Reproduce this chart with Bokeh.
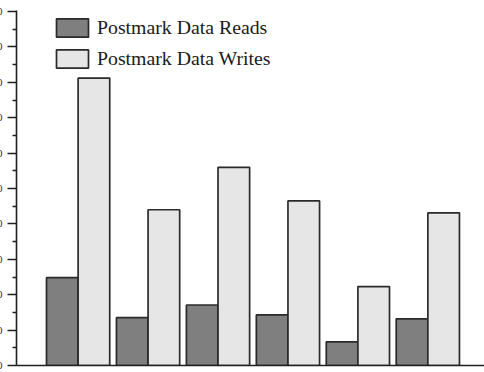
from bokeh.plotting import figure
from bokeh.models import ColumnDataSource, FixedTicker, Legend, LegendItem, Range1d
from bokeh.embed import file_html
from bokeh.resources import INLINE

# data
groups = [1, 2, 3, 4, 5, 6]
reads = [24.8, 13.5, 17.1, 14.3, 6.7, 13.2]
writes = [81.2, 44.0, 56.0, 46.5, 22.3, 43.1]
y_ticks = [0, 10, 20, 30, 40, 50, 60, 70, 80, 90, 100]
series_names = ["Postmark Data Reads", "Postmark Data Writes"]

SHIFT = 18  # px pushed off the left edge (labels are cut in the reference)

src_r = ColumnDataSource(dict(x=[g - 0.226 for g in groups], top=reads))
src_w = ColumnDataSource(dict(x=[g + 0.226 for g in groups], top=writes))

p = figure(width=484 + SHIFT, height=372, output_backend="svg", toolbar_location=None,
           x_range=Range1d(0.119, 6.81), y_range=Range1d(0, 100.3))
p.styles = {"margin-left": f"-{SHIFT}px"}
p.min_border_left = 0
p.min_border_right = 0
p.min_border_top = 10
p.min_border_bottom = 7
p.outline_line_color = None
p.grid.visible = False
p.background_fill_color = "white"
p.border_fill_color = "white"

r1 = p.vbar(x="x", top="top", width=0.452, source=src_r, fill_color="#7f7f7f",
            line_color="#2a2a2a", line_width=1.7)
r2 = p.vbar(x="x", top="top", width=0.452, source=src_w, fill_color="#e6e6e6",
            line_color="#2a2a2a", line_width=1.7)

yax = p.yaxis[0]
yax.ticker = FixedTicker(ticks=y_ticks, minor_ticks=[v + 5 for v in y_ticks[:-1]])
yax.axis_line_width = 1.6
yax.axis_line_color = "#202020"
yax.major_tick_in = 0
yax.major_tick_out = 9
yax.minor_tick_in = 0
yax.minor_tick_out = 4
yax.major_tick_line_width = 1.6
yax.minor_tick_line_width = 1.6
yax.major_tick_line_color = "#202020"
yax.minor_tick_line_color = "#202020"
yax.major_label_standoff = 5
yax.major_label_text_font = "Liberation Serif"
yax.major_label_text_font_size = "11px"
yax.major_label_text_color = "#303030"

xax = p.xaxis[0]
xax.ticker = FixedTicker(ticks=[])
xax.axis_line_width = 1.6
xax.axis_line_color = "#202020"
xax.major_tick_line_color = None
xax.minor_tick_line_color = None
xax.major_label_text_font_size = "0px"
xax.major_label_standoff = 0

legend = Legend(items=[LegendItem(label=series_names[0], renderers=[r1]),
                       LegendItem(label=series_names[1], renderers=[r2])],
                location=(36, 295))
legend.border_line_color = None
legend.background_fill_alpha = 0
legend.padding = 0
legend.margin = 0
legend.spacing = 8
legend.glyph_width = 40
legend.glyph_height = 23
legend.label_height = 23
legend.label_standoff = 5
legend.label_text_font = "Liberation Serif"
legend.label_text_font_size = "19.8px"
legend.label_text_color = "#1a1a1a"
p.add_layout(legend, "center")

open("out.html", "w").write(file_html(p, INLINE))
